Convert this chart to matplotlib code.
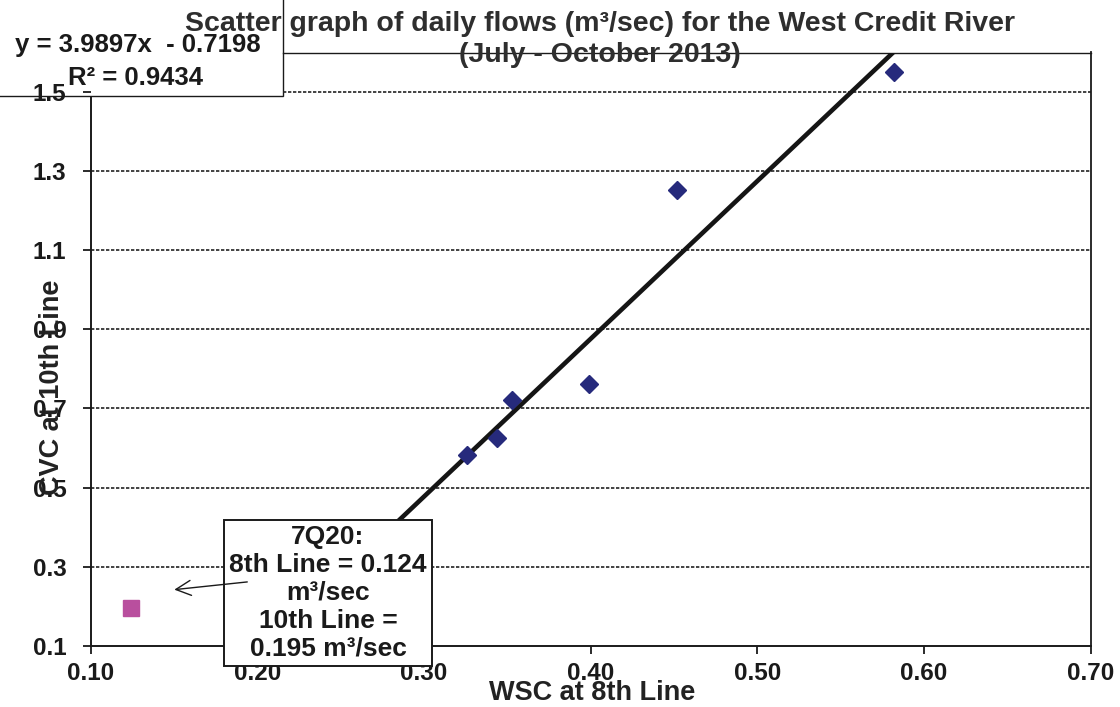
import matplotlib
matplotlib.use("Agg")
import matplotlib.pyplot as plt
import numpy as np
from matplotlib.patches import FancyArrowPatch, Rectangle

# daily flows, m3/sec
wsc_8th = [0.326, 0.344, 0.353, 0.399, 0.452, 0.582]
cvc_10th = [0.582, 0.624, 0.721, 0.763, 1.252, 1.551]
q720_x = [0.124]
q720_y = [0.195]
slope, intercept = 3.9897, -0.7198
r2 = 0.9434

x_ticks = [0.1, 0.2, 0.3, 0.4, 0.5, 0.6, 0.7]
y_ticks = [0.1, 0.3, 0.5, 0.7, 0.9, 1.1, 1.3, 1.5]

plt.rcParams.update({
    "font.family": ["Liberation Sans", "DejaVu Sans"],
    "font.weight": "bold",
    "text.color": "#1a1a1a",
})

W, H = 1120, 707
fig = plt.figure(figsize=(W / 100, H / 100), dpi=100)
ax = fig.add_axes([90.7 / W, 1 - 645.7 / H, 1000 / W, (645.7 - 52.5) / H])
ax.set_facecolor("none")
ax.set_xlim(0.1, 0.7)
ax.set_ylim(0.1, 1.6)

# gridlines, the top one is partly hidden behind the equation box
box_edge_x = 0.1 + (283 - 90.7) / 1666.7
for y in y_ticks[1:]:
    x0 = box_edge_x if y == y_ticks[-1] else 0.1
    ax.hlines(y, x0, 0.7, colors="#222222", linestyles=(0, (2.0, 1.0)), lw=1.2, zorder=1)

xs = np.array([0.1, max(wsc_8th)])
ax.plot(xs, slope * xs + intercept, color="#151515", lw=3.3, zorder=3)
ax.plot(wsc_8th, cvc_10th, "D", color="#262a7c", ms=9, mec="#262a7c", zorder=4)
ax.plot(q720_x, q720_y, "s", color="#b94f9e", ms=11.5, mec="#b94f9e", zorder=4)

ax.set_xticks(x_ticks)
ax.set_xticklabels([f"{v:.2f}" for v in x_ticks])
ax.set_yticks(y_ticks)
ax.set_yticklabels([f"{v:.1f}" for v in y_ticks])
ax.tick_params(axis="both", direction="out", length=5.5, width=1.3, colors="#1a1a1a",
               labelsize=17.5)
ax.tick_params(axis="x", pad=6)
ax.tick_params(axis="y", pad=12)
for lab in ax.get_xticklabels() + ax.get_yticklabels():
    lab.set_fontweight("bold")

for s in ax.spines.values():
    s.set_color("#1a1a1a")
ax.spines["left"].set_linewidth(1.4)
ax.spines["bottom"].set_linewidth(1.4)
ax.spines["right"].set_linewidth(1.3)
ax.spines["top"].set_linewidth(1.0)
ax.spines["left"].set_bounds(0.1, 0.1 + (645.7 - 97) / 395.5)
ax.spines["top"].set_bounds(box_edge_x, 0.7)

# equation box (behind the axes so the 1.5 label shows on top)
fig.add_artist(Rectangle((-0.01, 1 - 96 / H), 283 / W + 0.01, 96 / H + 0.01,
                         transform=fig.transFigure, facecolor="white",
                         edgecolor="#1a1a1a", lw=1.0, zorder=-1))
fig.text(15 / W, 1 - 45 / H, f"y = {slope}x  - {abs(intercept)}", fontsize=18.5,
         fontweight="bold", va="center", ha="left", zorder=-0.5)
fig.text(68 / W, 1 - 78 / H, f"R² = {r2}", fontsize=18.5, fontweight="bold",
         va="center", ha="left", zorder=-0.5)

fig.text(600 / W, 1 - 39.5 / H,
         "Scatter graph of daily flows (m³/sec) for the West Credit River\n(July - October 2013)",
         ha="center", va="center", fontsize=20.5, fontweight="bold", linespacing=1.22,
         color="#2e2e2e")

fig.text(52 / W, 1 - 387 / H, "CVC at 10th Line", rotation=90, ha="center", va="center",
         fontsize=19.5, fontweight="bold", color="#222222")
fig.text(592 / W, 1 - 693 / H, "WSC at 8th Line", ha="center", va="center",
         fontsize=19.5, fontweight="bold", color="#222222")

fig.text(328 / W, 1 - 593 / H,
         "7Q20:\n8th Line = 0.124\nm³/sec\n10th Line =\n0.195 m³/sec",
         ha="center", va="center", fontsize=19, fontweight="bold", linespacing=1.21,
         zorder=5,
         bbox=dict(boxstyle="square,pad=0.19", facecolor="white", edgecolor="#1a1a1a", lw=1.4))

fig.add_artist(FancyArrowPatch((0.1956, 0.262), (0.1485, 0.241), transform=ax.transData,
                               arrowstyle="->,head_length=0.6,head_width=0.3",
                               mutation_scale=18, color="#1a1a1a", lw=1.0, zorder=6))

fig.savefig("out.png", dpi=100)
